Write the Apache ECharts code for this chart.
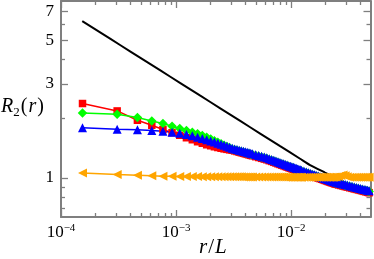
<!DOCTYPE html>
<html><head><meta charset="utf-8">
<script src="https://cdn.jsdelivr.net/npm/echarts@6/dist/echarts.min.js"></script>
<style>html,body{margin:0;padding:0;background:#fff}#c{width:374px;height:259px}</style>
</head><body><div id="c"></div>
<script>
// r/L sampling positions (linear grid r = n*dr, sub-sampled where markers fully overlap)
const rOverL = [0.0001538,0.0003077,0.0004615,0.0006154,0.0007692,0.0009231,0.001077,0.001231,0.001385,0.001538,
  0.001692,0.001846,0.002,0.002154,0.002308,0.002462,0.002615,0.002769,0.002923,0.003077,
  0.003231,0.003385,0.003538,0.003692,0.003846,0.004,0.004154,0.004308,0.004462,0.004615,
  0.004923,0.005231,0.005538,0.005846,0.006154,0.006462,0.006769,0.007077,0.007385,0.007692,
  0.008,0.008308,0.008615,0.008923,0.009231,0.009538,0.009846,0.010154,0.010462,0.010769,
  0.011077,0.011385,0.011692,0.012,0.012308,
  0.012923,0.013538,0.014154,0.014769,0.015385,0.016,0.016615,0.017231,0.017846,0.018462,
  0.019077,0.019692,0.020308,0.020923,0.021538,0.022154,0.022769,0.023385,0.024,0.024615,
  0.025846,0.027077,0.028308,0.029538,0.030769,
  0.032308,0.033846,0.035385,0.036923,0.038462,0.04,0.041538,0.043077,0.044615,0.046154,0.047692,0.049231,0.05];
const blueTriangles = [1.798,1.767,1.757,1.740,1.726,1.706,1.686,1.661,1.637,1.609,
  1.585,1.563,1.541,1.521,1.502,1.483,1.466,1.449,1.432,1.415,
  1.404,1.394,1.384,1.375,1.366,1.357,1.349,1.341,1.334,1.326,
  1.313,1.300,1.288,1.277,1.267,1.253,1.241,1.230,1.219,1.208,
  1.198,1.189,1.180,1.171,1.163,1.155,1.147,1.140,1.132,1.126,
  1.119,1.112,1.106,1.100,1.094,
  1.084,1.073,1.064,1.055,1.046,1.038,1.030,1.022,1.015,1.008,
  1.001,0.995,0.989,0.983,0.977,0.971,0.966,0.961,0.956,0.951,
  0.944,0.938,0.932,0.926,0.920,
  0.914,0.907,0.901,0.896,0.890,0.885,0.880,0.875,0.871,0.866,0.862,0.858,0.856];
const greenDiamonds = [2.138,2.106,2.026,1.947,1.888,1.830,1.781,1.740,1.706,1.676,
  1.641,1.609,1.576,1.545,1.518,1.492,1.466,1.443,1.422,1.402,
  1.391,1.381,1.371,1.362,1.353,1.344,1.336,1.329,1.321,1.314,
  1.300,1.288,1.276,1.265,1.255,1.242,1.230,1.218,1.208,1.197,
  1.187,1.178,1.169,1.160,1.152,1.144,1.136,1.129,1.122,1.115,
  1.108,1.102,1.096,1.090,1.084,
  1.073,1.063,1.054,1.045,1.036,1.028,1.020,1.013,1.006,0.999,
  0.992,0.986,0.980,0.974,0.968,0.962,0.957,0.952,0.947,0.942,
  0.935,0.929,0.923,0.917,0.912,
  0.905,0.899,0.893,0.887,0.882,0.877,0.872,0.867,0.863,0.858,0.854,0.850,0.848];
const redSquares = [2.386,2.188,1.963,1.851,1.761,1.696,1.647,1.600,1.563,1.527,
  1.500,1.474,1.457,1.440,1.427,1.415,1.405,1.397,1.389,1.382,
  1.372,1.362,1.352,1.343,1.334,1.326,1.318,1.310,1.303,1.296,
  1.282,1.270,1.258,1.247,1.237,1.224,1.213,1.201,1.191,1.180,
  1.171,1.161,1.153,1.144,1.136,1.128,1.121,1.113,1.106,1.100,
  1.093,1.087,1.081,1.075,1.069,
  1.059,1.049,1.039,1.030,1.022,1.014,1.006,0.999,0.992,0.985,
  0.978,0.972,0.966,0.960,0.954,0.949,0.944,0.939,0.934,0.929,
  0.922,0.916,0.910,0.904,0.899,
  0.892,0.886,0.880,0.875,0.870,0.865,0.860,0.855,0.851,0.846,0.842,0.838,0.836];
const orangeTriangles = [1.060,1.040,1.032,1.025,1.021,1.019,1.018,1.017,1.016,1.016,
  1.015,1.015,1.015,1.014,1.014,1.014,1.014,1.013,1.013,1.013,
  1.013,1.013,1.013,1.013,1.012,1.012,1.012,1.012,1.012,1.012,
  1.012,1.012,1.012,1.011,1.011,1.011,1.011,1.011,1.011,1.011,
  1.011,1.011,1.011,1.010,1.010,1.010,1.010,1.010,1.010,1.010,
  1.010,1.010,1.010,1.010,1.010,
  1.010,1.010,1.010,1.010,1.010,1.010,1.010,1.010,1.010,1.010,
  1.010,1.010,1.010,1.010,1.010,1.010,1.010,1.010,1.011,1.012,
  1.018,1.030,1.036,1.025,1.015,
  1.010,1.009,1.009,1.009,1.009,1.009,1.009,1.009,1.009,1.009,1.009,1.009,1.009];
const blackR = [0.000153,0.0002206,0.0003287,0.0004902,0.0007305,0.0010896,0.0016245,0.0024226,0.0036119,
  0.0053836,0.0080297,0.011968,0.014617,0.019721,0.026607,0.035897,0.048441];
const blackValues = [6.244,5.459,4.711,4.066,3.510,3.029,2.614,2.256,1.947,
  1.680,1.450,1.252,1.163,1.065,0.976,0.894,0.819];
const xMajorTicks = [1e-4,1e-3,1e-2];
const xMinorTicks = [2e-4,3e-4,4e-4,5e-4,6e-4,7e-4,8e-4,9e-4,2e-3,3e-3,4e-3,5e-3,6e-3,7e-3,8e-3,9e-3,2e-2,3e-2,4e-2];
const yMajorTicks = [1,3,5,7];
const yMinorTicks = [0.7,0.8,0.9,2,4,6];

const FONT = 'Liberation Serif';
const AX = '#7f7f7f';
const chart = echarts.init(document.getElementById('c'), null, {renderer:'canvas'});

function xAx(pos, ticks, len, labels, line) {
  return {type:'log', logBase:10, min:1e-4, max:0.049, position:pos, gridIndex:0,
    axisLine:{show:line, lineStyle:{color:AX, width:2}},
    axisTick:{show:true, inside:true, length:len, customValues:ticks, lineStyle:{color:AX, width:1.3}},
    axisLabel:labels ? {show:true, customValues:xMajorTicks, margin:6,
      formatter:v => '{b|10}{s|\u2212' + Math.round(-Math.log10(v)) + '}',
      rich:{b:{fontFamily:FONT, fontSize:17, color:'#000', lineHeight:20},
            s:{fontFamily:FONT, fontSize:11, color:'#000', verticalAlign:'top', lineHeight:12}}} : {show:false},
    splitLine:{show:false}, minorTick:{show:false}};
}
function yAx(pos, ticks, len, labels, line) {
  return {type:'log', logBase:10, min:0.634, max:7.9, position:pos, gridIndex:0,
    axisLine:{show:line, lineStyle:{color:AX, width:2}},
    axisTick:{show:true, inside:true, length:len, customValues:ticks, lineStyle:{color:AX, width:1.3}},
    axisLabel:labels ? {show:true, customValues:yMajorTicks, margin:7,
      fontFamily:FONT, fontSize:17, color:'#000', formatter:v => String(Math.round(v))} : {show:false},
    splitLine:{show:false}, minorTick:{show:false}};
}
function pairs(xs, ys){ return xs.map((x,i)=>[x, ys[i]]); }
function markerSeries(name, ys, color, symbol, size, rot) {
  return {type:'line', name, xAxisIndex:0, yAxisIndex:0, data:pairs(rOverL, ys),
    symbol, symbolSize:size, symbolRotate:rot||0, showSymbol:true, showAllSymbol:true,
    lineStyle:{color, width:1.5}, itemStyle:{color, borderWidth:0}, emphasis:{disabled:true},
    animation:false, clip:true};
}

chart.setOption({
  animation:false,
  grid:{left:61, right:3.5, top:1, bottom:42, containLabel:false},
  xAxis:[xAx('bottom', xMajorTicks, 7, true, true), xAx('bottom', xMinorTicks, 4, false, false),
         xAx('top', xMajorTicks, 7, false, true), xAx('top', xMinorTicks, 4, false, false)],
  yAxis:[yAx('left', yMajorTicks, 7, true, true), yAx('left', yMinorTicks, 4, false, false),
         yAx('right', yMajorTicks, 7, false, true), yAx('right', yMinorTicks, 4, false, false)],
  series:[
    markerSeries('red', redSquares, '#ff0000', 'rect', 7.5),
    markerSeries('green', greenDiamonds, '#00ff00', 'diamond', 9.5),
    markerSeries('blue', blueTriangles, '#0000ff', 'triangle', 9),
    markerSeries('orange', orangeTriangles, '#ffa500', 'triangle', 9, 90),
    {type:'line', name:'black', data:pairs(blackR, blackValues), symbol:'none', smooth:0.2,
     lineStyle:{color:'#000', width:2}, animation:false, emphasis:{disabled:true}}
  ],
  graphic:[
    {type:'text', left:1, top:97, style:{text:'{i|R}{s|2}{n|(}{i|r}{n|)}',
      rich:{i:{fontFamily:FONT, fontStyle:'italic', fontSize:20, lineHeight:22, verticalAlign:'top'},
            n:{fontFamily:FONT, fontSize:20, lineHeight:22, verticalAlign:'top', padding:[0,1,0,1]},
            s:{fontFamily:FONT, fontSize:13, lineHeight:14, verticalAlign:'bottom'}}}},
    {type:'text', left:199, top:237, style:{text:'{i|r}{n|/}{i|L}',
      rich:{i:{fontFamily:FONT, fontStyle:'italic', fontSize:21}, n:{fontFamily:FONT, fontSize:21, padding:[0,1,0,1]}}}}
  ]
});
</script></body></html>
